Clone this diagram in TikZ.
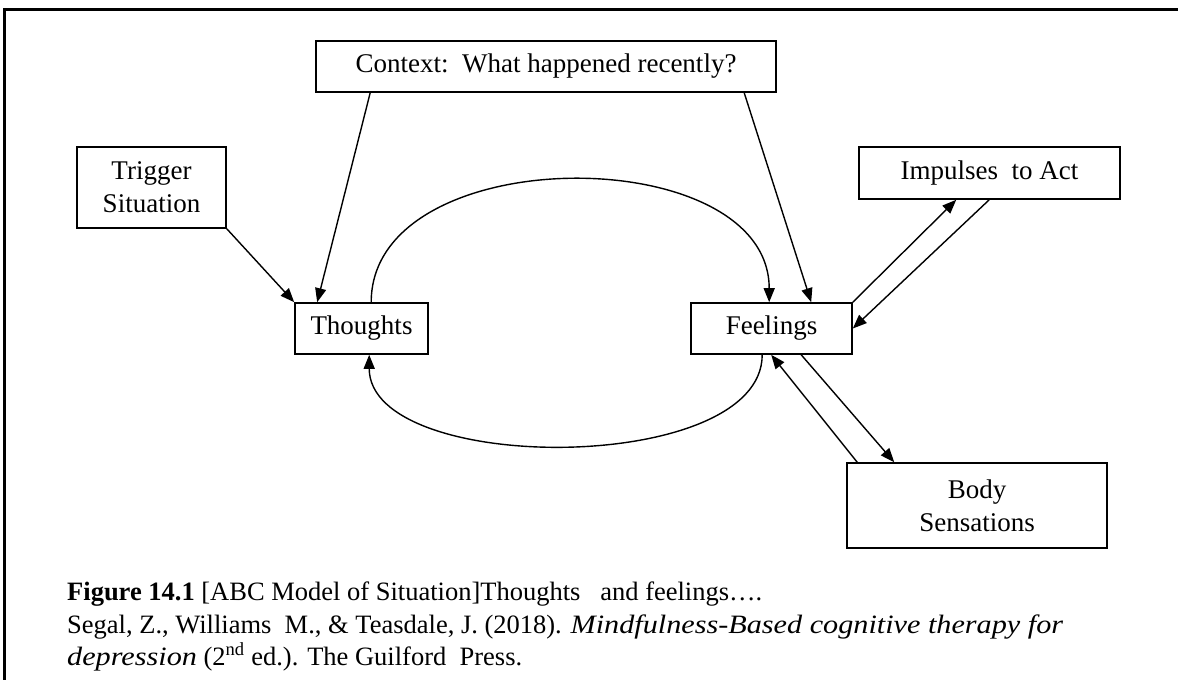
\documentclass[tikz,border=0pt]{standalone}
\usepackage{fontspec}
\setmainfont{Liberation Serif}
\newfontfamily\wideserif{Liberation Serif}[FakeStretch=1.14]
\usetikzlibrary{arrows.meta,calc}
\begin{document}
\begin{tikzpicture}[x=1pt,y=-1pt,
  box/.style={draw,line width=1.6pt,inner sep=0pt,align=center,font=\fontsize{27}{33}\selectfont},
  arr/.style={line width=1.4pt,-{Triangle[length=14pt,width=11pt]}},
  captxt/.style={anchor=base west,inner sep=0pt,font=\fontsize{26.5}{31}\selectfont}]
\useasboundingbox (0,0) rectangle (1178,680);
\fill[white] (0,0) rectangle (1178,680);
\draw[line width=3pt] (4,680) -- (4,9) -- (1178,9);
\node[box,minimum width=460pt,minimum height=51pt] (ctx) at (546,66.5) {Context:\ \ What happened recently?};
\node[box,minimum width=149pt,minimum height=81pt] (trig) at (151.5,187.5) {Trigger\\Situation};
\node[box,minimum width=261pt,minimum height=52pt] (imp) at (989.5,173) {Impulses\ \ to Act};
\node[box,minimum width=133pt,minimum height=51pt] (th) at (361.5,328.5) {Thoughts};
\node[box,minimum width=161pt,minimum height=51pt] (fe) at (771.5,328.5) {Feelings};
\node[box,minimum width=260pt,minimum height=85pt] (body) at (977,505.5) {Body\\Sensations};
\draw[arr] ($(ctx.south west)+(55,0)$) -- ($(th.north west)+(23,0)$);
\draw[arr] ($(ctx.south west)+(429,0)$) -- ($(fe.north west)+(121,0)$);
\draw[arr] (trig.south east) -- (th.north west);
\draw[arr] (fe.north east) -- ($(imp.south west)+(98,0)$);
\draw[arr] ($(imp.south west)+(131,0)$) -- (fe.east);
\draw[arr] ($(body.north west)+(11,0)$) -- ($(fe.south west)+(81,0)$);
\draw[arr] ($(fe.south west)+(111,0)$) -- ($(body.north west)+(48,0)$);
\draw[arr] ($(th.north west)+(77,0)$) .. controls +(0,-163) and +(0,-163) .. ($(fe.north west)+(79,0)$);
\draw[arr] ($(fe.south west)+(72,0)$) .. controls +(0,121) and +(0,121) .. ($(th.south west)+(75,0)$);
\node[captxt] (cap1) at (67,600) {\textbf{Figure 14.1} [ABC Model of Situation]Thoughts\ \ \ and feelings….};
\node[captxt] (cap2) at (67,633) {Segal, Z., Williams\ \ M., \& Teasdale, J. (2018). {\wideserif\itshape Mindfulness-Based cognitive therapy for}};
\node[captxt] (cap3) at (67,665) {{\wideserif\itshape depression} (2\textsuperscript{nd} ed.). The Guilford\ \ Press.};
\end{tikzpicture}
\end{document}
